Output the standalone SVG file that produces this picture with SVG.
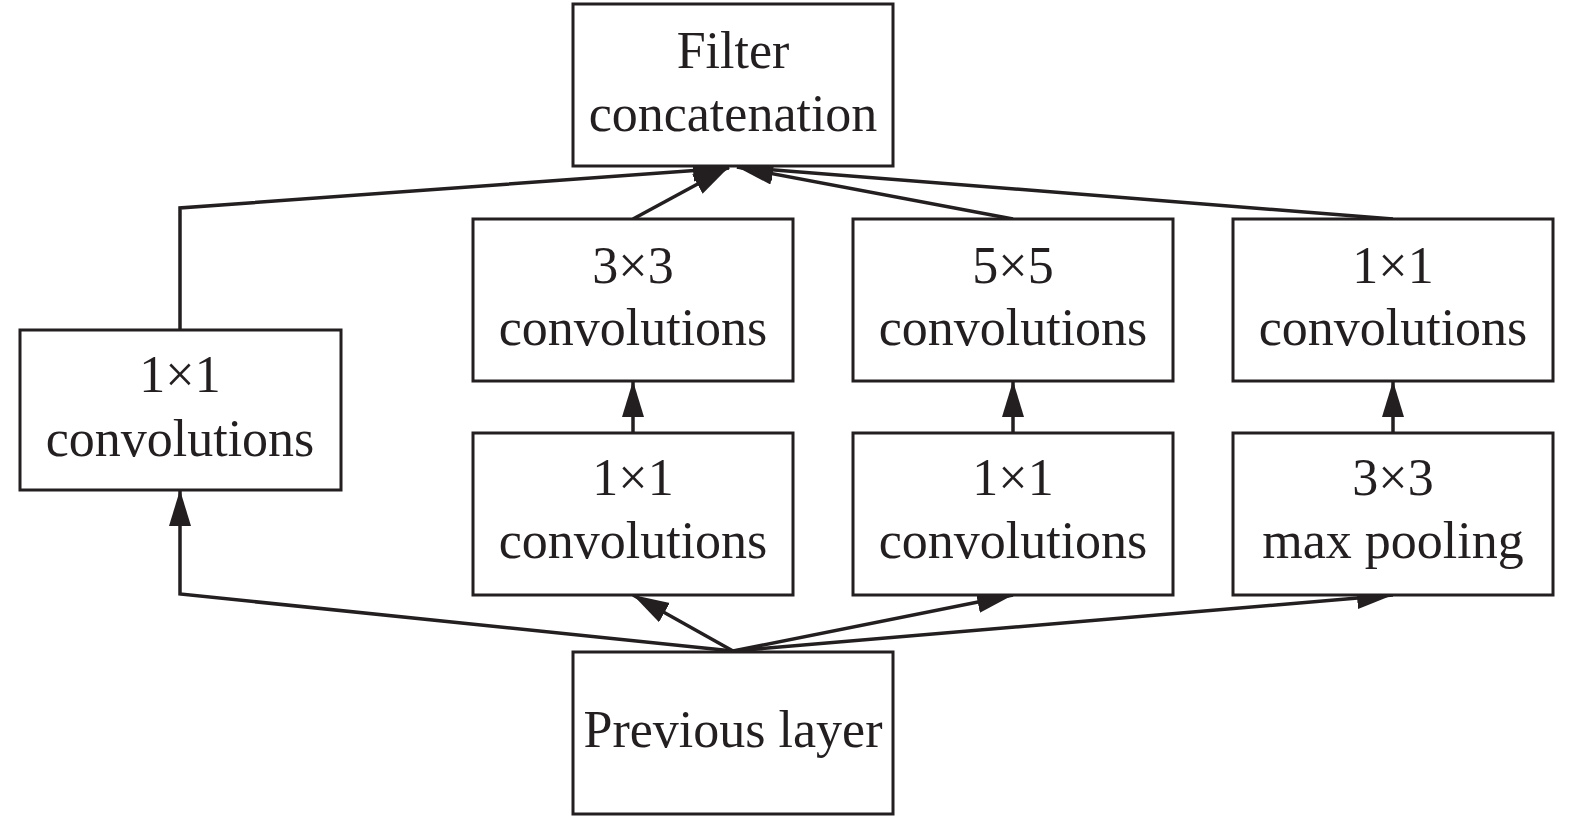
<svg xmlns="http://www.w3.org/2000/svg" width="1575" height="819" viewBox="0 0 1575 819">
<style>
.box{fill:#fff;stroke:#231f20;stroke-width:3}
.t{font-family:"Liberation Serif","Times New Roman",serif;font-size:52px;fill:#231f20;text-anchor:middle}
.c{fill:none;stroke:#231f20;stroke-width:3.5}
</style>
<defs>
<marker id="ah" markerUnits="userSpaceOnUse" markerWidth="40" markerHeight="24" refX="36" refY="11" orient="auto">
<path d="M0,0 L36,11 L0,22 z" fill="#231f20"/>
</marker>
</defs>
<rect width="1575" height="819" fill="#fff"/>
<g id="connectors">
<polyline class="c" points="180,330 180,208 729,168" marker-end="url(#ah)"/>
<line class="c" x1="633" y1="219" x2="729" y2="167" marker-end="url(#ah)"/>
<line class="c" x1="1013" y1="219" x2="737" y2="167" marker-end="url(#ah)"/>
<line class="c" x1="1393" y1="219" x2="737" y2="167" marker-end="url(#ah)"/>
<line class="c" x1="633" y1="433" x2="633" y2="381" marker-end="url(#ah)"/>
<line class="c" x1="1013" y1="433" x2="1013" y2="381" marker-end="url(#ah)"/>
<line class="c" x1="1393" y1="433" x2="1393" y2="381" marker-end="url(#ah)"/>
<polyline class="c" points="733,651 180,594 180,490" marker-end="url(#ah)"/>
<line class="c" x1="733" y1="651" x2="633" y2="595" marker-end="url(#ah)"/>
<line class="c" x1="733" y1="651" x2="1013" y2="595" marker-end="url(#ah)"/>
<line class="c" x1="733" y1="651" x2="1393" y2="595" marker-end="url(#ah)"/>
</g>
<g id="filter-concat">
<rect class="box" x="573" y="4" width="320" height="162"/>
<text class="t" x="733" y="68">Filter</text>
<text class="t" x="733" y="131">concatenation</text>
</g>
<g id="conv1x1-left">
<rect class="box" x="20" y="330" width="321" height="160"/>
<text class="t" x="180" y="392">1×1</text>
<text class="t" x="180" y="456">convolutions</text>
</g>
<g id="conv3x3">
<rect class="box" x="473" y="219" width="320" height="162"/>
<text class="t" x="633" y="283">3×3</text>
<text class="t" x="633" y="345">convolutions</text>
</g>
<g id="conv5x5">
<rect class="box" x="853" y="219" width="320" height="162"/>
<text class="t" x="1013" y="283">5×5</text>
<text class="t" x="1013" y="345">convolutions</text>
</g>
<g id="conv1x1-right">
<rect class="box" x="1233" y="219" width="320" height="162"/>
<text class="t" x="1393" y="283">1×1</text>
<text class="t" x="1393" y="345">convolutions</text>
</g>
<g id="reduce3x3">
<rect class="box" x="473" y="433" width="320" height="162"/>
<text class="t" x="633" y="495">1×1</text>
<text class="t" x="633" y="558">convolutions</text>
</g>
<g id="reduce5x5">
<rect class="box" x="853" y="433" width="320" height="162"/>
<text class="t" x="1013" y="495">1×1</text>
<text class="t" x="1013" y="558">convolutions</text>
</g>
<g id="maxpool">
<rect class="box" x="1233" y="433" width="320" height="162"/>
<text class="t" x="1393" y="495">3×3</text>
<text class="t" x="1393" y="558">max pooling</text>
</g>
<g id="previous-layer">
<rect class="box" x="573" y="652" width="320" height="162"/>
<text class="t" x="733" y="747">Previous layer</text>
</g>
</svg>
